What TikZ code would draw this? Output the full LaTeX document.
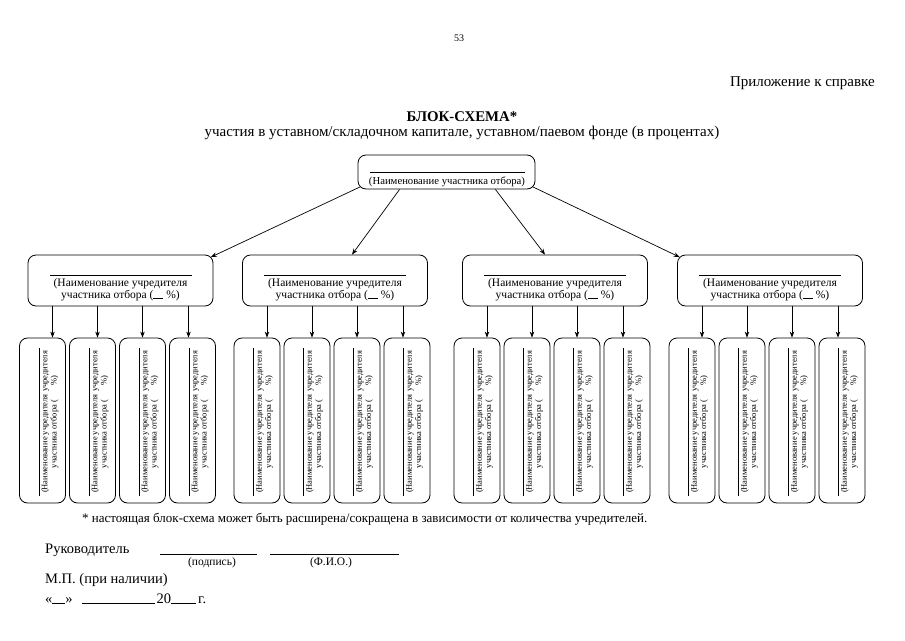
\documentclass[tikz,border=0pt]{standalone}
\usepackage{fontspec}
\setmainfont{Liberation Serif}
\usetikzlibrary{arrows.meta,calc}
\begin{document}
\begin{tikzpicture}[x=1pt,y=-1pt,
  pbox/.style={draw, rounded corners=8pt, line width=0.8pt, minimum width=185pt, minimum height=51pt, inner sep=0pt},
  lbox/.style={draw, rounded corners=8pt, line width=0.8pt, minimum width=46pt, minimum height=165pt, inner sep=0pt},
  tbox/.style={draw, rounded corners=8pt, line width=0.8pt, minimum width=177pt, minimum height=34pt, inner sep=0pt},
  ptext/.style={anchor=base, align=center, inner sep=0pt, font=\fontsize{11.5}{11.5}\selectfont},
  ltext/.style={anchor=base, align=center, inner sep=0pt, rotate=90, font=\fontsize{8.5}{9.2}\selectfont},
  arr/.style={-{Stealth[length=6pt,width=4.5pt]}, line width=0.7pt},
  plain/.style={inner sep=0pt}]
\useasboundingbox (0,0) rectangle (905,640);
% header
\node[plain, font=\fontsize{10}{12}\selectfont] (page) at (459,38) {53};
\node[plain, anchor=east, font=\fontsize{15}{17}\selectfont] (app) at (875,83) {Приложение к справке};
\node[plain, font=\fontsize{14.8}{17}\selectfont\bfseries] (title) at (462,117) {БЛОК-СХЕМА*};
\node[plain, font=\fontsize{15}{17}\selectfont] (subtitle) at (462,133) {участия в уставном/складочном капитале, уставном/паевом фонде (в процентах)};
% top node
\node[tbox] (top) at (446.5,172) {};
\node[ptext, font=\fontsize{10.7}{12}\selectfont] (toptext) at (447,184) {\rule{155pt}{0.5pt}\\(Наименование участника отбора)};
% second level and leaves
\foreach \i/\cx in {1/120.5, 2/335, 3/555, 4/770} {
  \node[pbox] (p\i) at (\cx,280.5) {};
  \node[ptext] (pt\i) at (\cx,298) {\rule{142pt}{0.5pt}\\(Наименование учредителя\\участника отбора (\rule{10pt}{0.4pt} \%)};
  \foreach \j/\lo/\ao in {1/-78/-68, 2/-28/-23, 3/22/22, 4/72/68} {
    \node[lbox] (l\i\j) at ({\cx+(\lo)},420.5) {};
    \node[ltext] (lt\i\j) at ({\cx+(\lo)+14},422) {\rule{148pt}{0.4pt}\\[-1pt](Наименование учредителя учредителя\\участника отбора (\hspace{14pt}\%)};
    \draw[arr] ([xshift=\ao pt]p\i.south) -- ([xshift=\ao pt]p\i.south |- l\i\j.north);
  }
}
% top to second level
\draw[arr] ([xshift=2.5pt,yshift=2.5pt]top.south west) -- ([xshift=-2.5pt,yshift=-2.5pt]p1.north east);
\draw[arr] ([xshift=42pt]top.south west) -- ([xshift=17pt]p2.north);
\draw[arr] ([xshift=-40pt]top.south east) -- ([xshift=-10pt]p3.north);
\draw[arr] ([xshift=-2.5pt,yshift=2.5pt]top.south east) -- ([xshift=2.5pt,yshift=-2.5pt]p4.north west);
% footnote
\node[plain, anchor=base west, font=\fontsize{13}{15}\selectfont] (note) at (82,522) {* настоящая блок-схема может быть расширена/сокращена в зависимости от количества учредителей.};
% signature block
\node[plain, anchor=base west, font=\fontsize{14.5}{16}\selectfont] (head) at (45,553) {Руководитель};
\draw[line width=0.6pt] (160,554) -- (257,554);
\draw[line width=0.6pt] (270,554) -- (399,554);
\node[plain, font=\fontsize{11.5}{13}\selectfont] (sign) at (212,563) {(подпись)};
\node[plain, font=\fontsize{11.5}{13}\selectfont] (fio) at (331,563) {(Ф.И.О.)};
\node[plain, anchor=base west, font=\fontsize{14.5}{16}\selectfont] (mp) at (45,583) {М.П. (при наличии)};
\node[plain, anchor=base west, font=\fontsize{14.5}{16}\selectfont] (date) at (45,603) {«\rule{13pt}{0.4pt}»\hspace{9pt}\rule{73pt}{0.4pt}\hspace{2pt}20\rule{25pt}{0.4pt}\hspace{2pt}г.};
\end{tikzpicture}
\end{document}
